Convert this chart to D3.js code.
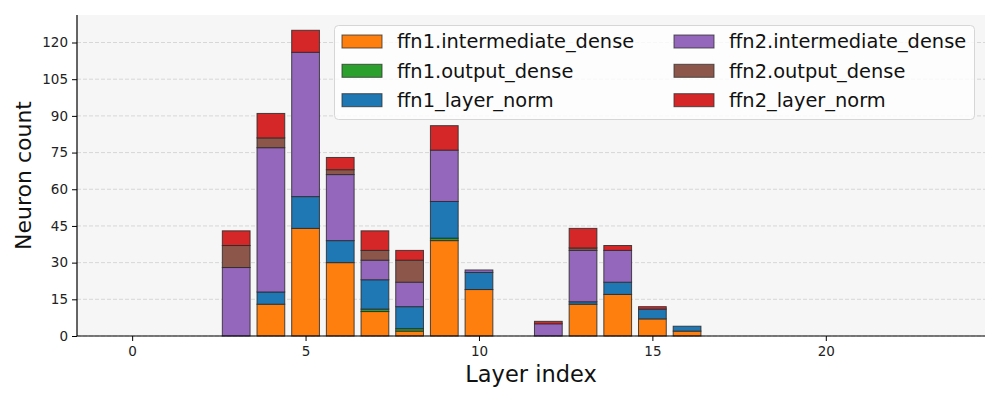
<!DOCTYPE html>
<html>
<head>
<meta charset="utf-8">
<script src="https://cdn.jsdelivr.net/npm/d3@7"></script>
<style>
  body { margin: 0; background: #fff; }
  svg { font-family: "DejaVu Sans", sans-serif; }
</style>
</head>
<body>
<div id="chart"></div>
<script>
  const width = 1000;
  const height = 400;

  // data: neuron counts per layer (0..23)
  const layers = d3.range(0, 24);
  const seriesNames = [
    "ffn1.intermediate_dense",
    "ffn1.output_dense",
    "ffn1_layer_norm",
    "ffn2.intermediate_dense",
    "ffn2.output_dense",
    "ffn2_layer_norm"
  ];
  const seriesColors = ["#ff7f0e", "#2ca02c", "#1f77b4", "#9467bd", "#8c564b", "#d62728"];
  //                     0  1  2   3   4   5   6   7   8   9  10 11 12  13  14 15 16 17..23
  const ffn1Inter  = [0, 0, 0, 0, 13, 44, 30, 10,  2, 39, 19, 0, 0, 13, 17, 7, 2, 0, 0, 0, 0, 0, 0, 0];
  const ffn1Out    = [0, 0, 0, 0,  0,  0,  0,  1,  1,  1,  0, 0, 0,  0,  0, 0, 0, 0, 0, 0, 0, 0, 0, 0];
  const ffn1Norm   = [0, 0, 0, 0,  5, 13,  9, 12,  9, 15,  7, 0, 0,  1,  5, 4, 2, 0, 0, 0, 0, 0, 0, 0];
  const ffn2Inter  = [0, 0, 0, 28, 59, 59, 27, 8, 10, 21,  1, 0, 5, 21, 13, 0, 0, 0, 0, 0, 0, 0, 0, 0];
  const ffn2Out    = [0, 0, 0, 9,  4,  0,  2,  4,  9,  0,  0, 0, 0,  1,  0, 0, 0, 0, 0, 0, 0, 0, 0, 0];
  const ffn2Norm   = [0, 0, 0, 6, 10,  9,  5,  8,  4, 10,  0, 0, 1,  8,  2, 1, 0, 0, 0, 0, 0, 0, 0, 0];
  const seriesValues = [ffn1Inter, ffn1Out, ffn1Norm, ffn2Inter, ffn2Out, ffn2Norm];
  const yTicks = [0, 15, 30, 45, 60, 75, 90, 105, 120];
  const xTicks = [0, 5, 10, 15, 20];

  const margin = { left: 77, right: 15, top: 15, bottom: 64 };
  const plotW = width - margin.left - margin.right;
  const plotH = height - margin.top - margin.bottom;
  const barW = 0.8;

  const rows = layers.map(function(l, i) {
    const row = { layer: l };
    seriesNames.forEach(function(name, s) { row[name] = seriesValues[s][i]; });
    return row;
  });
  const stacked = d3.stack().keys(seriesNames)(rows);
  const maxTotal = d3.max(rows, function(r) {
    return d3.sum(seriesNames, function(n) { return r[n]; });
  });

  // matplotlib-style 5% padding on x
  const xMin = layers[0] - barW / 2, xMax = layers[layers.length - 1] + barW / 2;
  const pad = (xMax - xMin) * 0.05;
  const x = d3.scaleLinear().domain([xMin - pad, xMax + pad]).range([0, plotW]);
  const y = d3.scaleLinear().domain([0, maxTotal * 1.05]).range([plotH, 0]);

  const svg = d3.select("#chart").append("svg")
    .attr("width", width)
    .attr("height", height);

  const g = svg.append("g")
    .attr("transform", "translate(" + margin.left + "," + margin.top + ")");

  g.append("rect")
    .attr("width", plotW)
    .attr("height", plotH)
    .attr("fill", "#f6f6f6");

  // grid
  g.selectAll("line.grid")
    .data(yTicks)
    .enter()
    .append("line")
    .attr("class", "grid")
    .attr("x1", 0)
    .attr("x2", plotW)
    .attr("y1", function(d) { return y(d); })
    .attr("y2", function(d) { return y(d); })
    .attr("stroke", "#cfcfcf")
    .attr("stroke-width", 0.8)
    .attr("stroke-dasharray", "4,2");

  // bars
  g.selectAll("g.series")
    .data(stacked)
    .enter()
    .append("g")
    .attr("class", "series")
    .attr("fill", function(d, i) { return seriesColors[i]; })
    .selectAll("rect")
    .data(function(d) { return d.filter(function(p) { return p[1] - p[0] > 0; }); })
    .enter()
    .append("rect")
    .attr("x", function(d) { return x(d.data.layer - barW / 2); })
    .attr("width", function(d) { return x(barW) - x(0); })
    .attr("y", function(d) { return y(d[1]); })
    .attr("height", function(d) { return y(d[0]) - y(d[1]); })
    .attr("stroke", "#2a2a2a")
    .attr("stroke-opacity", 0.85)
    .attr("stroke-width", 1);

  // axes
  const yAxis = g.append("g")
    .call(d3.axisLeft(y).tickValues(yTicks).tickSize(5).tickPadding(4));
  const xAxis = g.append("g")
    .attr("transform", "translate(0," + plotH + ")")
    .call(d3.axisBottom(x).tickValues(xTicks).tickSize(5).tickPadding(5));

  [xAxis, yAxis].forEach(function(a) {
    a.selectAll("text")
      .style("font-family", "DejaVu Sans")
      .style("font-size", "13.5px")
      .attr("fill", "#222");
    a.selectAll("line").attr("stroke", "#000").attr("stroke-width", 1);
    a.select(".domain").attr("stroke", "#000").attr("stroke-width", 1.2);
  });
  // only left + bottom spines: remove the outer tick stubs of the domain path
  yAxis.select(".domain").attr("d", "M0," + plotH + "V0");
  xAxis.select(".domain").attr("d", "M0,0H" + plotW);

  // axis labels
  svg.append("text")
    .attr("x", margin.left + plotW / 2)
    .attr("y", 382)
    .attr("text-anchor", "middle")
    .style("font-size", "22.5px")
    .attr("fill", "#111")
    .text("Layer index");

  svg.append("text")
    .attr("transform", "translate(31," + (margin.top + plotH / 2) + ") rotate(-90)")
    .attr("text-anchor", "middle")
    .style("font-size", "22px")
    .attr("fill", "#111")
    .text("Neuron count");

  // legend
  const legend = svg.append("g");
  legend.append("rect")
    .attr("x", 334.5)
    .attr("y", 25.5)
    .attr("width", 640)
    .attr("height", 94)
    .attr("rx", 4)
    .attr("fill", "#fff")
    .attr("fill-opacity", 0.8)
    .attr("stroke", "#d6d6d6");

  const colX = [342, 674];
  const rowY = [41.5, 70.8, 100.2];
  seriesNames.forEach(function(name, i) {
    const cx = colX[Math.floor(i / 3)];
    const cy = rowY[i % 3];
    legend.append("rect")
      .attr("x", cx)
      .attr("y", cy - 6.5)
      .attr("width", 40)
      .attr("height", 13)
      .attr("fill", seriesColors[i])
      .attr("stroke", "#333")
      .attr("stroke-opacity", 0.8);
    legend.append("text")
      .attr("x", cx + 55)
      .attr("y", cy)
      .attr("dy", "0.35em")
      .style("font-size", "19.4px")
      .attr("fill", "#111")
      .text(name);
  });
</script>
</body>
</html>
